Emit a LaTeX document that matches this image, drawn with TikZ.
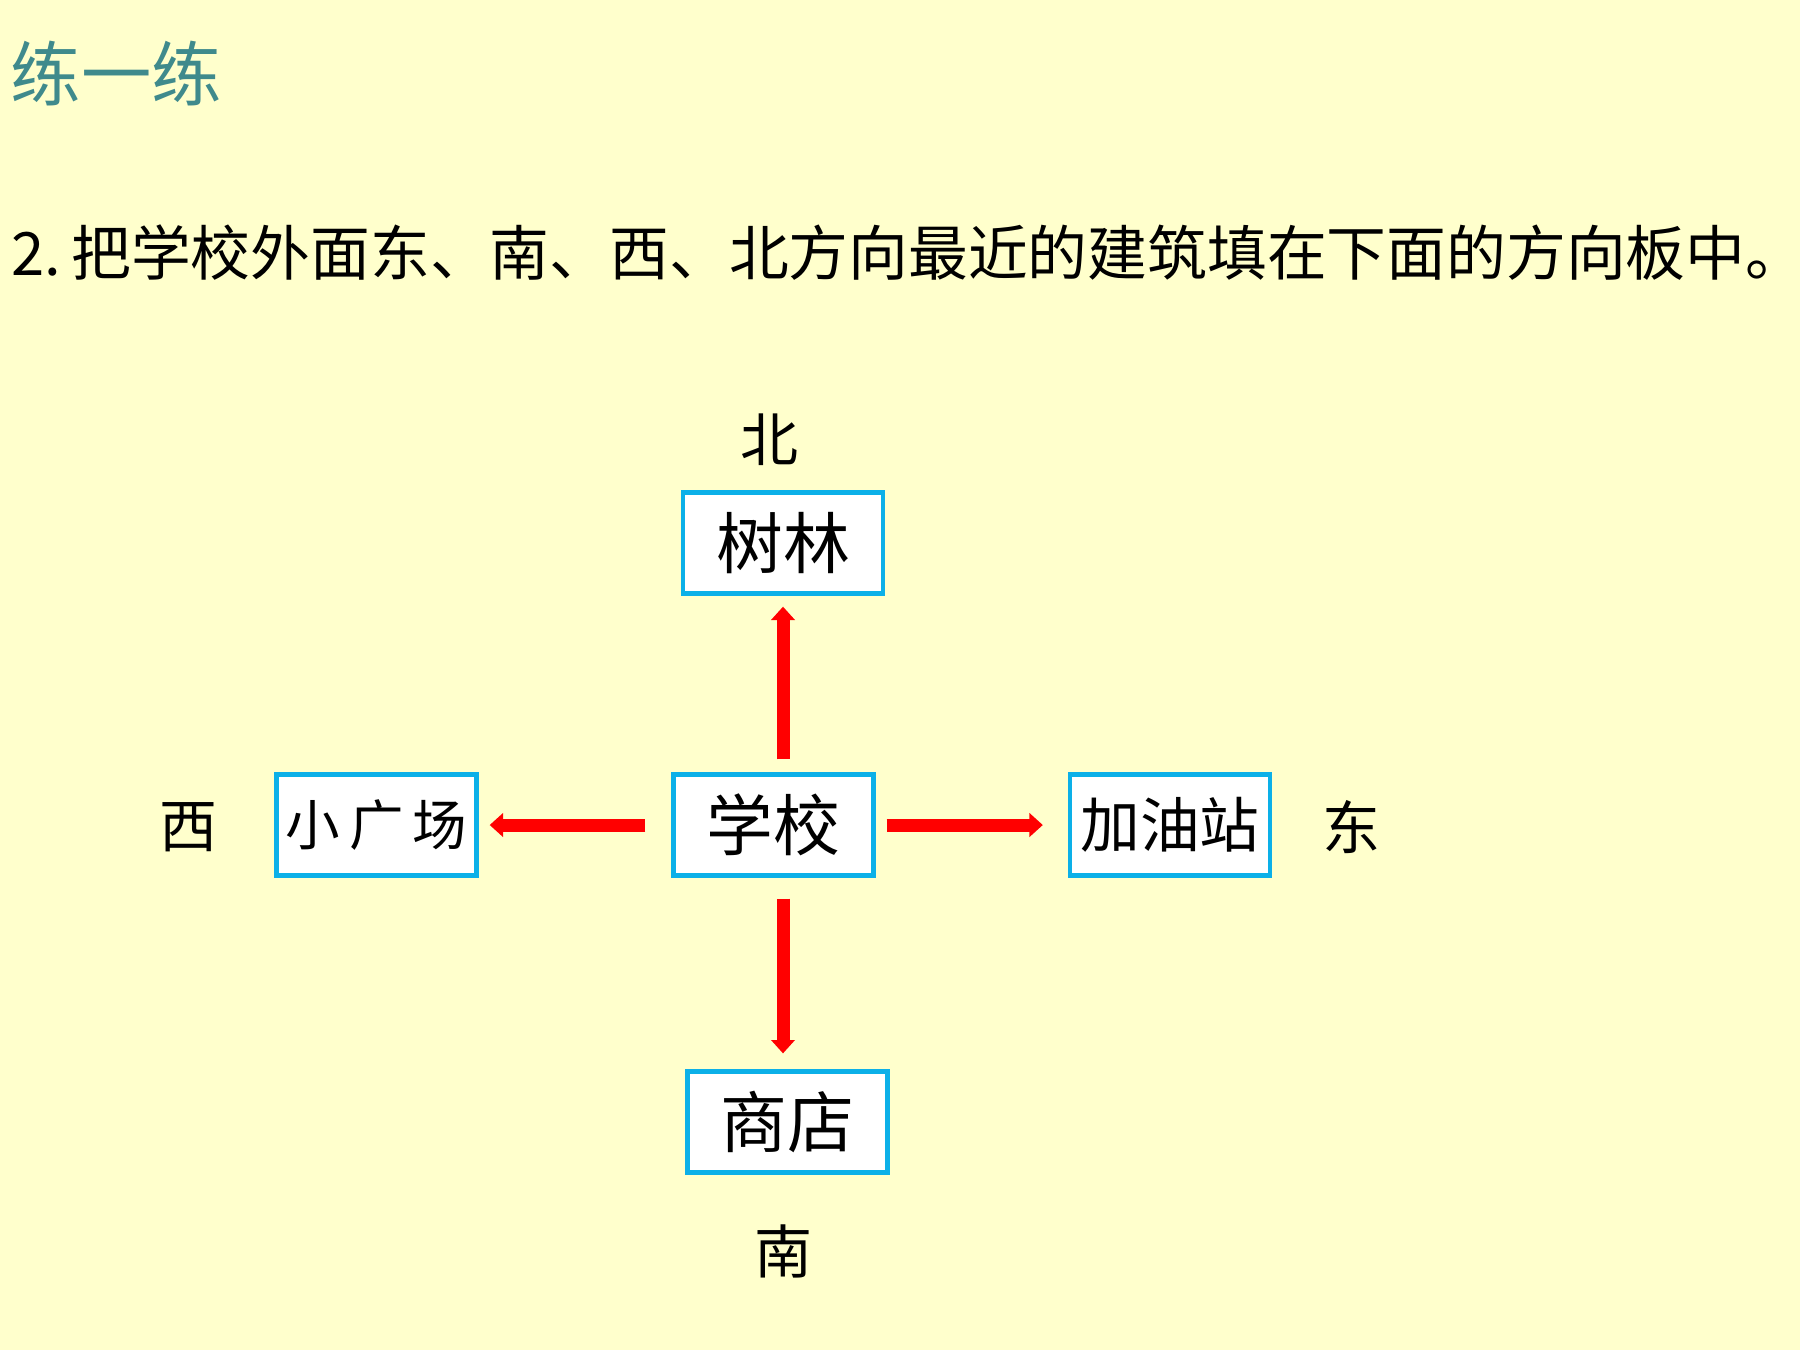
\documentclass[tikz,border=0pt]{standalone}
\usepackage{fontspec}
\setmainfont{Noto Sans CJK SC}
\usetikzlibrary{arrows.meta}
\definecolor{bgc}{HTML}{FFFFCC}
\definecolor{teal1}{HTML}{3F8A8C}
\definecolor{boxc}{HTML}{0CB0E8}
\tikzset{
  place/.style={draw=boxc, line width=1.2pt, fill=white, minimum width=2cm, minimum height=1.01cm, inner sep=0pt, font=\fontsize{19}{19}\selectfont},
  place3/.style={place, font=\fontsize{15.5}{15.5}\selectfont},
  dirlabel/.style={inner sep=0pt, font=\fontsize{16.5}{16.5}\selectfont},
  redarrow/.style={draw=red, line width=3.7pt, -{Triangle[width=6.6pt,length=3.8pt]}}
}
\begin{document}
\begin{tikzpicture}[x=0.01cm,y=-0.01cm]
\fill[bgc] (0,0) rectangle (1800,1350);
\useasboundingbox (0,0) rectangle (1800,1350);
\node[anchor=west, inner sep=0pt, text=teal1, font=\fontsize{20}{20}\selectfont] (title) at (10,74) {练一练};
\node[anchor=west, inner sep=0pt, font=\fontsize{17}{17}\selectfont] (task) at (11,253) {2.\,把学校外面东、南、西、北方向最近的建筑填在下面的方向板中。};
\node[place] (tree) at (783,543) {树林};
\node[place] (school) at (773.5,825) {学校};
\node[place3] (plaza) at (376.5,825) {小\,广\,场};
\node[place3, font=\fontsize{17}{17}\selectfont] (gas) at (1170,825) {加油站};
\node[place] (shop) at (787.5,1122) {商店};
\node[dirlabel] (north) at (769,440) {北};
\node[dirlabel] (south) at (784,1251) {南};
\node[dirlabel] (west) at (189,827) {西};
\node[dirlabel] (east) at (1351,827) {东};
\draw[redarrow, shorten <=0.13cm, shorten >=0.11cm] (school.north -| tree.south) -- (tree.south);
\draw[redarrow, shorten <=0.21cm, shorten >=0.16cm] (school.south -| tree.south) -- (tree.south |- shop.north);
\draw[redarrow, shorten <=0.26cm, shorten >=0.11cm] (school.west) -- (plaza.east);
\draw[redarrow, shorten <=0.11cm, shorten >=0.25cm] (school.east) -- (gas.west);
\end{tikzpicture}
\end{document}
